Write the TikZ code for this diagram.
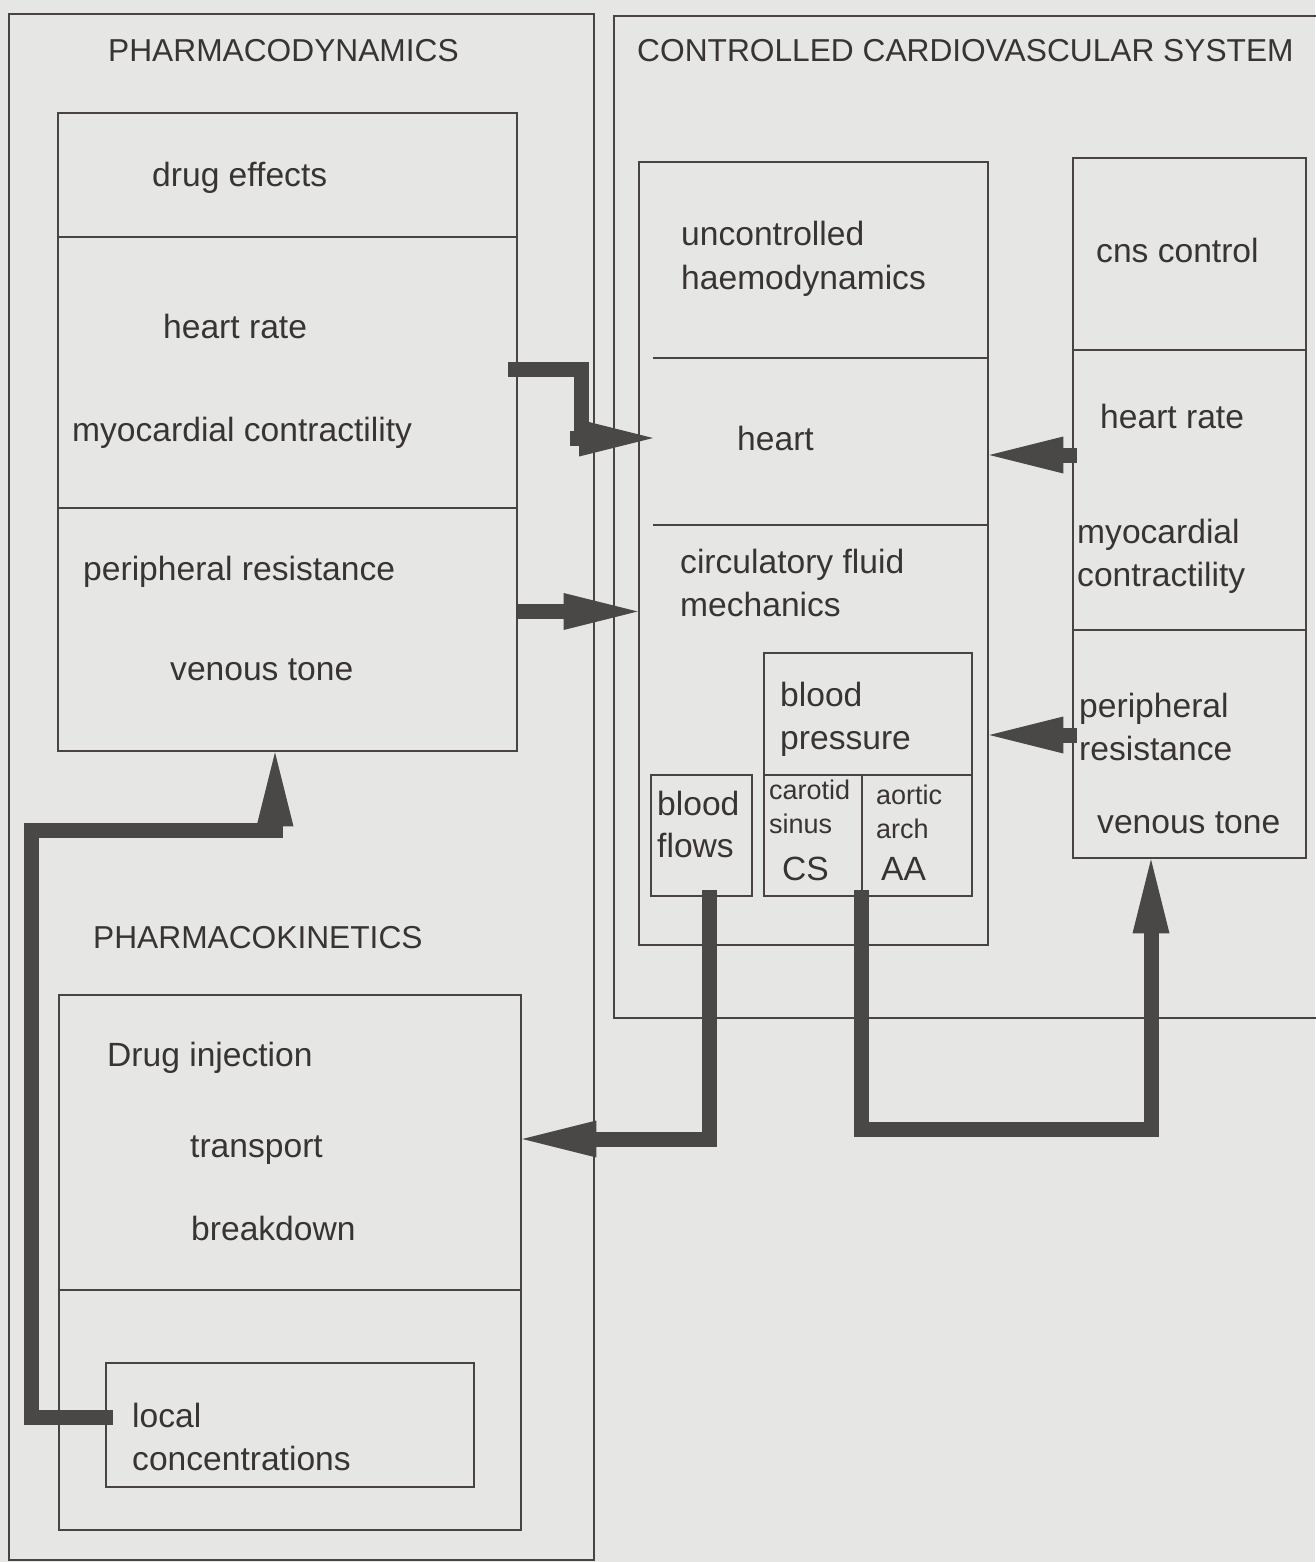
\documentclass[tikz,border=0pt]{standalone}
\usepackage{fontspec}
\setmainfont{Liberation Sans}
\usetikzlibrary{arrows.meta,fit,calc}
\definecolor{paper}{HTML}{E6E6E4}
\definecolor{ink}{HTML}{4A4343}
\definecolor{flow}{HTML}{4A4747}
\definecolor{txt}{HTML}{393434}

\begin{document}
\begin{tikzpicture}[x=1pt,y=-1pt,
  box/.style={draw=ink, line width=2.7pt, inner sep=0pt, fill=none},
  rule/.style={draw=ink, line width=2.7pt},
  lbl/.style={anchor=base west, inner sep=0pt, text=txt, font=\fontsize{33.6}{43}\selectfont},
  sml/.style={lbl, font=\fontsize{27}{34}\selectfont},
  ttl/.style={anchor=base west, inner sep=0pt, text=txt, font=\fontsize{31.7}{40}\selectfont},
  pipe/.style={draw=flow, line width=15pt},
  feed/.style={pipe, -{Triangle[length=74pt,width=37pt,line width=0pt]}}
]
% page and background
\useasboundingbox (0,0) rectangle (1315,1562);
\fill[paper] (0,0) rectangle (1315,1562);

% ---------- outer frames ----------
\node[box, fit={(9,14) (594,1560)}] (pdframe) {};
\node[box, fit={(614,16) (1340,1018)}] (cvsframe) {};

\node[ttl] (tpd) at (108,62) {PHARMACODYNAMICS};
\node[ttl] (tcvs) at (637,62) {CONTROLLED CARDIOVASCULAR SYSTEM};
\node[ttl] (tpk) at (93,948) {PHARMACOKINETICS};

% ---------- pharmacodynamics ----------
\node[box, fit={(58,113) (517,751)}] (pd) {};
\draw[rule] (pd.west |- 0,237) -- (pd.east |- 0,237);
\draw[rule] (pd.west |- 0,508) -- (pd.east |- 0,508);
\node[lbl] (pd1) at (152,187) {drug effects};
\node[lbl] (pd2) at (163,338) {heart rate};
\node[lbl] (pd3) at (72,441) {myocardial contractility};
\node[lbl] (pd4) at (83,580) {peripheral resistance};
\node[lbl] (pd5) at (170,680) {venous tone};

% ---------- pharmacokinetics ----------
\node[box, fit={(59,995) (521,1530)}] (pk) {};
\draw[rule] (pk.west |- 0,1290) -- (pk.east |- 0,1290);
\node[lbl] (pk1) at (107,1066) {Drug injection};
\node[lbl] (pk2) at (190,1157) {transport};
\node[lbl] (pk3) at (191,1240) {breakdown};
\node[box, fit={(106,1363) (474,1487)}] (loc) {};
\node[lbl] (loc1) at (132,1427) {local};
\node[lbl] (loc2) at (132,1470) {concentrations};

% ---------- haemodynamics ----------
\node[box, fit={(639,162) (988,945)}] (hb) {};
\draw[rule] (653,358) -- (hb.east |- 0,358);
\draw[rule] (653,525) -- (hb.east |- 0,525);
\node[lbl] (hb1) at (681,246) {uncontrolled};
\node[lbl] (hb2) at (681,289) {haemodynamics};
\node[lbl] (hb3) at (737,450) {heart};
\node[lbl] (hb4) at (680,573) {circulatory fluid};
\node[lbl] (hb5) at (680,616) {mechanics};

\node[box, fit={(764,653) (972,775)}] (bp) {};
\node[box, fit={(764,775) (862,896)}] (cs) {};
\node[box, fit={(862,775) (972,896)}] (aa) {};
\node[box, fit={(651,775) (752,896)}] (bf) {};
\node[lbl] (bp1) at (780,706) {blood};
\node[lbl] (bp2) at (780,749) {pressure};
\node[lbl] (bf1) at (657,815) {blood};
\node[lbl] (bf2) at (657,857) {flows};
\node[sml] (cs1) at (769,799) {carotid};
\node[sml] (cs2) at (769,833) {sinus};
\node[lbl] (cs3) at (782,880) {CS};
\node[sml] (aa1) at (876,804) {aortic};
\node[sml] (aa2) at (876,838) {arch};
\node[lbl] (aa3) at (881,880) {AA};

% ---------- central nervous control ----------
\node[box, fit={(1073,158) (1306,858)}] (cns) {};
\draw[rule] (cns.west |- 0,350) -- (cns.east |- 0,350);
\draw[rule] (cns.west |- 0,630) -- (cns.east |- 0,630);
\node[lbl] (cn1) at (1096,262) {cns control};
\node[lbl] (cn2) at (1100,428) {heart rate};
\node[lbl] (cn3) at (1077,543) {myocardial};
\node[lbl] (cn4) at (1077,586) {contractility};
\node[lbl] (cn5) at (1079,717) {peripheral};
\node[lbl] (cn6) at (1079,760) {resistance};
\node[lbl] (cn7) at (1097,833) {venous tone};

% ---------- signal paths ----------
\coordinate (hrIn) at (653,438);
\draw[pipe] (508,369.5) -- (581,369.5) -- (581,446);
\draw[feed] (570,438) -- (hrIn);

\draw[feed] (pd.east |- 0,611.5) -- (hb.west |- 0,611.5);

\draw[feed] (1077,455) -- (hb.east |- 0,455);
\draw[feed] (1077,735) -- (hb.east |- 0,735);

\draw[feed] (709,890) -- (709,1139) -- (pk.east |- 0,1139);

\draw[feed] (861,890) -- (861,1129) -- (1151,1129) -- (cns.south -| 1151,0);

\coordinate (locOut) at (113,1417);
\draw[pipe] (locOut) -- (31,1417) -- (31,830) -- (283,830);
\draw[feed] (275,836) -- (pd.south -| 275,0);
\end{tikzpicture}
\end{document}
